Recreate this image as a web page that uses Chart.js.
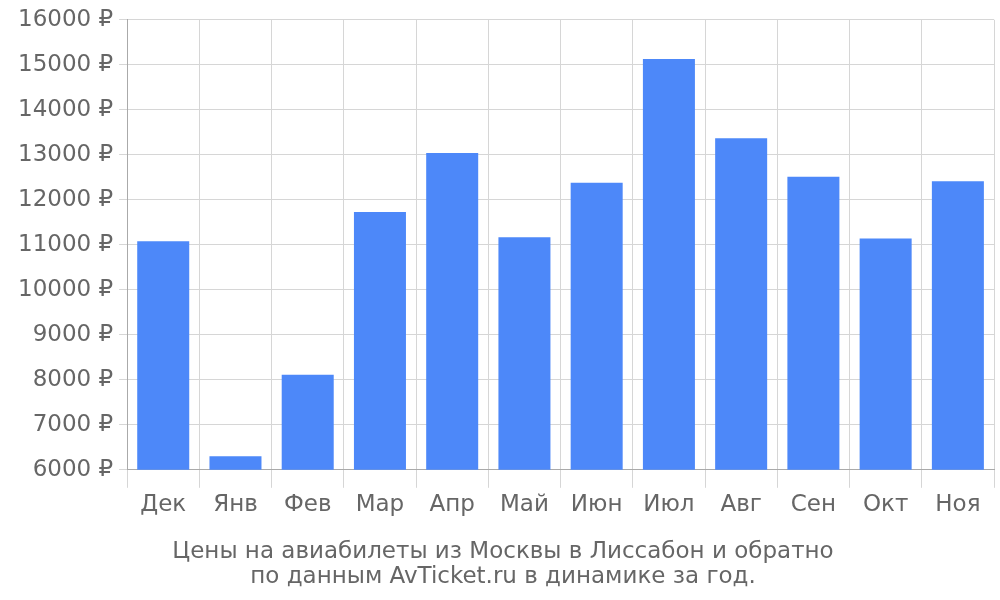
<!DOCTYPE html>
<html>
<head>
<meta charset="utf-8">
<script src="https://cdn.jsdelivr.net/npm/chart.js@4"></script>
<style>
  body { margin: 0; background: #fff; }
  #wrap { width: 1000px; height: 600px; }
</style>
</head>
<body>
<div id="wrap"><canvas id="chart"></canvas></div>
<script>
const months = ['Дек', 'Янв', 'Фев', 'Мар', 'Апр', 'Май', 'Июн', 'Июл', 'Авг', 'Сен', 'Окт', 'Ноя'];
const prices = [11080, 6300, 8110, 11730, 13040, 11170, 12380, 15130, 13370, 12510, 11140, 12410];
const titleLines = ['Цены на авиабилеты из Москвы в Лиссабон и обратно', 'по данным AvTicket.ru в динамике за год.'];

Chart.defaults.font.family = 'DejaVu Sans';
Chart.defaults.color = '#666';

new Chart(document.getElementById('chart'), {
    type: 'bar',
    data: {
        labels: months,
        datasets: [{
            data: prices,
            backgroundColor: '#4d88f9',
            barPercentage: 0.72,
            categoryPercentage: 1
        }]
    },
    options: {
        responsive: true,
        maintainAspectRatio: false,
        animation: false,
        layout: { padding: { top: 14, right: 6, bottom: 10, left: 12 } },
        plugins: {
            legend: { display: false },
            tooltip: { enabled: false },
            title: {
                display: true,
                position: 'bottom',
                text: titleLines,
                font: { size: 23, weight: 'normal', lineHeight: 1.1 },
                color: '#666',
                padding: { top: 18, bottom: 0 }
            }
        },
        scales: {
            x: {
                grid: { color: '#d6d6d6', tickLength: 18 },
                border: { color: '#aaa' },
                ticks: { font: { size: 23 }, color: '#666' }
            },
            y: {
                min: 6000,
                max: 16000,
                grid: { color: '#d6d6d6', tickLength: 8 },
                border: { color: '#aaa' },
                ticks: {
                    stepSize: 1000,
                    font: { size: 23 },
                    color: '#666',
                    padding: 6,
                    callback: value => `${value} ₽`
                }
            }
        }
    }
});
</script>
</body>
</html>
